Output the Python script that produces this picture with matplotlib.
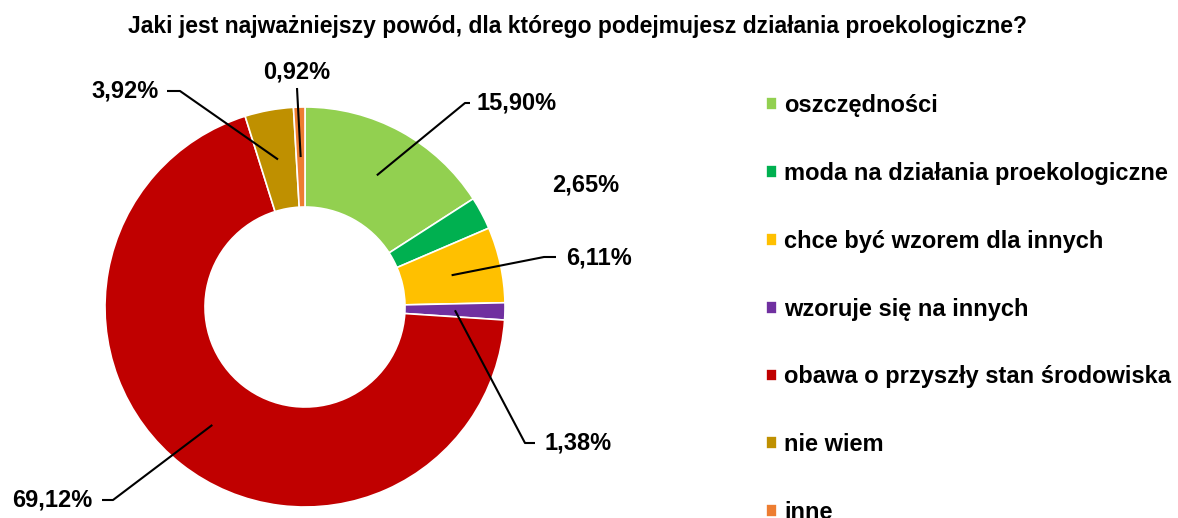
import numpy as np
import matplotlib
matplotlib.use("Agg")
import matplotlib.pyplot as plt

plt.rcParams["font.family"] = ["Liberation Sans", "DejaVu Sans"]

categories = ["oszczędności", "moda na działania proekologiczne",
              "chce być wzorem dla innych", "wzoruje się na innych",
              "obawa o przyszły stan środowiska", "nie wiem", "inne"]
values = [15.90, 2.65, 6.11, 1.38, 69.12, 3.92, 0.92]
colors = ["#92D050", "#00B050", "#FFC000", "#7030A0", "#C00000", "#BF9000", "#ED7D31"]
labels = ["15,90%", "2,65%", "6,11%", "1,38%", "69,12%", "3,92%", "0,92%"]

W, H = 1178, 518
fig = plt.figure(figsize=(W / 100, H / 100), dpi=100)
ax = fig.add_axes([0, 0, 1, 1])

cx, cy, R = 305, H - 307, 200
wedges, _ = ax.pie(values, colors=colors, startangle=90, counterclock=False,
                   center=(cx, cy), radius=R, frame=True,
                   wedgeprops=dict(width=R * 0.5, edgecolor="white", linewidth=1.2))
ax.set_xlim(0, W)
ax.set_ylim(0, H)
ax.set_aspect("equal")
ax.axis("off")

# label layout: (text x, text y, ha, elbow x, elbow y, end x) in pixels; None -> no leader
layout = [
    (477, 103, "left", 465, 103, 470),
    (586, 185, "center", None, None, None),
    (566, 258, "left", 544, 257, 556),
    (545, 443, "left", 525, 443, 535),
    (92, 500, "right", 113, 500, 102),
    (159, 91, "right", 180, 91, 167),
    (297, 72, "center", 297, 88, 297),
]

for w, lab, (tx, ty, ha, ex, ey, hx) in zip(wedges, labels, layout):
    mid = np.deg2rad((w.theta1 + w.theta2) / 2)
    px = cx + 150 * np.cos(mid)
    py = cy + 150 * np.sin(mid)
    if ex is not None:
        ax.plot([px, ex, hx], [py, H - ey, H - ey], color="black", lw=1.5,
                solid_capstyle="butt")
    ax.text(tx, H - ty, lab, ha=ha, va="center", fontsize=17, fontweight="bold")

fig.text(577 / W, 1 - 26 / H,
         "Jaki jest najważniejszy powód, dla którego podejmujesz działania proekologiczne?",
         ha="center", va="center", fontsize=16.5, fontweight="bold")

leg = fig.legend(wedges, categories, loc="upper left", bbox_to_anchor=(766 / W, 1 - 94 / H),
                 frameon=False, prop=dict(size=17, weight="bold"),
                 handlelength=0.46, handleheight=0.46, handletextpad=0.3,
                 labelspacing=1.9, borderaxespad=0, borderpad=0)

fig.savefig("out.png", dpi=100)
